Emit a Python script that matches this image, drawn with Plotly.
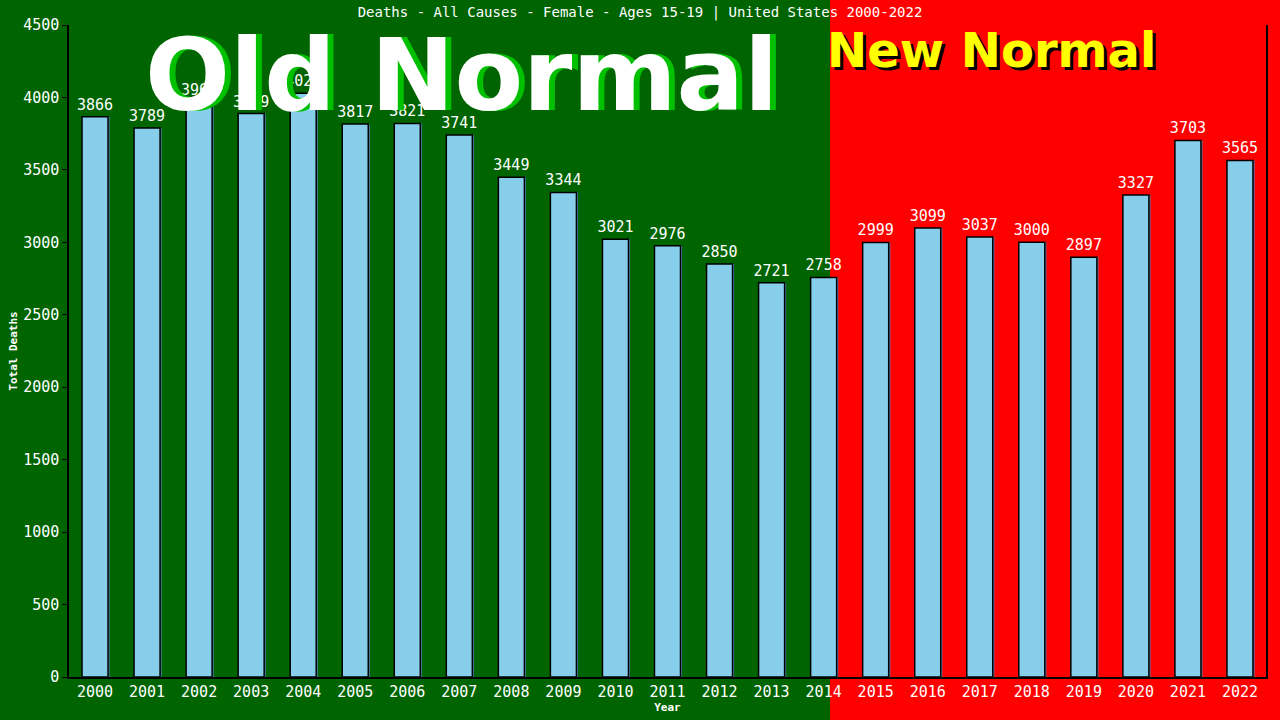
import plotly.graph_objects as go

# deaths, all causes, female 15-19, USA
years = [str(y) for y in range(2000, 2023)]
deaths = [3866, 3789, 3967, 3889, 4029, 3817, 3821, 3741, 3449, 3344, 3021, 2976,
          2850, 2721, 2758, 2999, 3099, 3037, 3000, 2897, 3327, 3703, 3565]
y_ticks = [0, 500, 1000, 1500, 2000, 2500, 3000, 3500, 4000, 4500]

title = "Deaths - All Causes - Female - Ages 15-19 | United States 2000-2022"
mono = "DejaVu Sans Mono"

fig = go.Figure()
# little blue shadow behind each bar
fig.add_trace(go.Bar(x=years, y=deaths, width=0.5, offset=-0.22,
                     marker=dict(color="#4682B4", line=dict(width=0)),
                     hoverinfo="skip", showlegend=False))
fig.add_trace(go.Bar(x=years, y=deaths, width=0.5, offset=-0.25,
                     marker=dict(color="#87CEEB", line=dict(color="black", width=1.5)),
                     text=[str(d) for d in deaths], textposition="outside",
                     constraintext="none",
                     textfont=dict(family=mono, size=15, color="white"),
                     cliponaxis=False, showlegend=False))

fig.update_layout(
    width=1280, height=720,
    margin=dict(l=69, r=14, t=25, b=43),
    paper_bgcolor="#006400", plot_bgcolor="rgba(0,0,0,0)",
    barmode="overlay", bargap=0.5,
    font=dict(family=mono, color="white", size=14),
    title=dict(text=title, x=0.5, xanchor="center", y=0.983, yanchor="middle",
               font=dict(family=mono, size=14, color="white")),
    shapes=[dict(type="rect", xref="paper", yref="paper", x0=0.6358, x1=1.2,
                 y0=-0.2, y1=1.2, fillcolor="#FF0000", line=dict(width=0), layer="below")],
)
fig.update_xaxes(type="category", range=[-0.5, 22.5], showline=True, linecolor="black",
                 linewidth=1.5, ticks="", showgrid=False, automargin=False,
                 tickfont=dict(family=mono, size=15, color="white"),
                 title=dict(text="<b>Year</b>", font=dict(family=mono, size=11, color="white"),
                            standoff=4))
fig.update_yaxes(range=[0, 4500], tickvals=y_ticks, showline=True, mirror=True,
                 linecolor="black", linewidth=1.5, ticks="outside", ticklen=5,
                 tickcolor="black", showgrid=False, zeroline=False, automargin=False,
                 tickfont=dict(family=mono, size=15, color="white"))

# y axis title placed by hand
fig.add_annotation(text="<b>Total Deaths</b>", xref="paper", yref="paper", x=-0.047, y=0.5,
                   textangle=-90, showarrow=False, xanchor="center", yanchor="middle",
                   font=dict(family=mono, size=11, color="white"))

big = "DejaVu Sans"
# Old Normal: green shadow then white text
for dx, col in [(6, "#00C000"), (0, "white")]:
    fig.add_annotation(text="<b>Old Normal</b>", xref="paper", yref="paper",
                       x=0.062 + dx / 1197, y=0.922, xanchor="left", yanchor="middle",
                       showarrow=False, font=dict(family=big, size=100, color=col))
# New Normal: black shadow then yellow text
for dx, dy, col in [(3, 3, "black"), (0, 0, "#FFFF00")]:
    fig.add_annotation(text="<b>New Normal</b>", xref="paper", yref="paper",
                       x=0.6313 + dx / 1197, y=0.962 - dy / 652, xanchor="left",
                       yanchor="middle", showarrow=False,
                       font=dict(family=big, size=48, color=col))

fig.write_html("out.html", config={"displayModeBar": False},
               post_script="document.body.style.margin='0';")
